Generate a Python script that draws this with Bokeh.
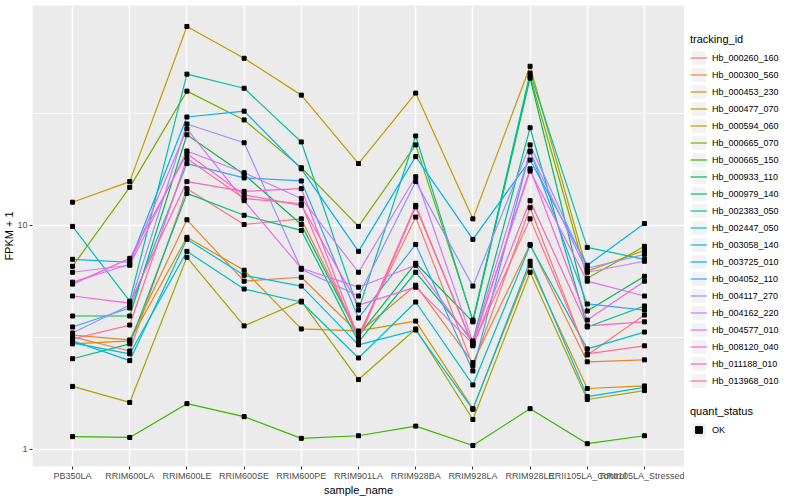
import numpy as np
from bokeh.plotting import figure
from bokeh.layouts import row
from bokeh.models import (Legend, LegendItem, FixedTicker, Range1d, FactorRange,
                          BasicTickFormatter, Title)
from bokeh.embed import file_html
from bokeh.resources import INLINE

samples = ["PB350LA", "RRIM600LA", "RRIM600LE", "RRIM600SE", "RRIM600PE", "RRIM901LA",
           "RRIM928BA", "RRIM928LA", "RRIM928LE", "RRII105LA_Control", "RRII105LA_Stressed"]

tracking_ids = ["Hb_000260_160", "Hb_000300_560", "Hb_000453_230", "Hb_000477_070",
                "Hb_000594_060", "Hb_000665_070", "Hb_000665_150", "Hb_000933_110",
                "Hb_000979_140", "Hb_002383_050", "Hb_002447_050", "Hb_003058_140",
                "Hb_003725_010", "Hb_004052_110", "Hb_004117_270", "Hb_004162_220",
                "Hb_004577_010", "Hb_008120_040", "Hb_011188_010", "Hb_013968_010"]

hb_000260_160 = [3.18, 2.75, 14.6, 10.1, 10.7, 3.24, 10.9, 2.36, 12.0, 2.64, 3.98]
hb_000300_560 = [3.24, 3.08, 10.6, 5.64, 5.87, 3.31, 5.41, 2.44, 8.23, 2.46, 2.51]
hb_000453_230 = [2.96, 3.05, 8.85, 6.31, 3.45, 3.38, 3.74, 1.52, 6.64, 1.87, 1.92]
hb_000477_070 = [12.7, 15.7, 77.4, 55.8, 38.2, 18.9, 39.0, 10.7, 51.4, 6.25, 7.74]
hb_000594_060 = [1.91, 1.62, 7.21, 3.56, 4.59, 2.05, 3.45, 1.36, 6.18, 1.67, 1.83]
hb_000665_070 = [6.57, 14.8, 39.8, 29.6, 18.1, 9.9, 22.9, 3.78, 46.4, 5.81, 8.07]
hb_000665_150 = [1.14, 1.13, 1.60, 1.40, 1.12, 1.15, 1.27, 1.04, 1.52, 1.06, 1.15]
hb_000933_110 = [3.94, 3.94, 25.4, 16.9, 10.1, 3.21, 6.78, 3.71, 45.5, 4.15, 5.93]
hb_000979_140 = [2.54, 2.96, 13.9, 11.1, 9.5, 3.02, 6.18, 3.05, 27.3, 3.52, 4.37]
hb_002383_050 = [9.9, 4.59, 47.4, 41.0, 23.6, 4.19, 25.1, 3.74, 47.9, 7.98, 7.06]
hb_002447_050 = [2.99, 2.67, 7.66, 5.20, 4.55, 2.56, 4.55, 1.94, 8.15, 2.81, 3.34]
hb_003058_140 = [3.05, 2.49, 8.67, 5.99, 5.36, 2.93, 3.41, 1.51, 6.92, 1.72, 1.89]
hb_003725_010 = [7.06, 6.85, 30.5, 32.4, 17.9, 7.66, 20.3, 8.67, 19.6, 6.64, 10.2]
hb_004052_110 = [3.52, 4.28, 18.9, 16.3, 15.8, 3.86, 8.23, 2.24, 21.5, 4.46, 4.19]
hb_004117_270 = [3.31, 4.41, 28.4, 23.4, 6.37, 4.84, 15.7, 5.36, 22.9, 6.44, 7.43]
hb_004162_220 = [6.18, 6.64, 21.5, 17.2, 13.2, 6.18, 16.5, 3.02, 21.3, 6.18, 6.92]
hb_004577_010 = [5.58, 6.71, 27.0, 12.9, 6.44, 5.30, 6.64, 2.99, 17.5, 5.64, 4.84]
hb_008120_040 = [5.47, 7.13, 20.9, 13.7, 12.3, 4.41, 5.30, 2.96, 17.9, 3.78, 5.64]
hb_011188_010 = [4.84, 4.50, 15.7, 14.2, 14.6, 3.15, 12.3, 2.90, 12.9, 3.56, 3.71]
hb_013968_010 = [3.11, 3.59, 19.9, 13.2, 12.5, 3.08, 12.1, 2.93, 10.7, 2.67, 2.90]

series = [hb_000260_160, hb_000300_560, hb_000453_230, hb_000477_070, hb_000594_060,
          hb_000665_070, hb_000665_150, hb_000933_110, hb_000979_140, hb_002383_050,
          hb_002447_050, hb_003058_140, hb_003725_010, hb_004052_110, hb_004117_270,
          hb_004162_220, hb_004577_010, hb_008120_040, hb_011188_010, hb_013968_010]

colors = ["#F8766D", "#EA8331", "#D89000", "#C09B00", "#A3A500", "#7CAE00", "#39B600",
          "#00BB4E", "#00BF7D", "#00C1A3", "#00BFC4", "#00BAE0", "#00B0F6", "#35A2FF",
          "#9590FF", "#C77CFF", "#E76BF3", "#FA62DB", "#FF62BC", "#FF6C91"]

quant_status = ["OK"]

FONT = "Liberation Sans"
H = 498

allv = np.concatenate([np.array(s) for s in series])
lmin, lmax = np.log10(allv.min()), np.log10(allv.max())
pad = 0.05 * (lmax - lmin)
y_range = Range1d(10 ** (lmin - pad), 10 ** (lmax + pad))
x_range = FactorRange(*samples, range_padding=0.2, range_padding_units="absolute")

p = figure(width=684, height=H, x_range=x_range, y_range=y_range, y_axis_type="log",
           output_backend="svg", toolbar_location=None,
           min_border_left=0, min_border_right=0, min_border_top=5, min_border_bottom=27)
p.background_fill_color = "#EBEBEB"
p.border_fill_color = "white"
p.outline_line_color = None

yt = FixedTicker(ticks=[1, 10], minor_ticks=[3.1623, 31.623])
p.yaxis.ticker = yt
p.ygrid.ticker = yt
p.yaxis.formatter = BasicTickFormatter()

for ax in (p.xaxis[0], p.yaxis[0]):
    ax.axis_line_color = None
    ax.major_tick_line_color = "#333333"
    ax.major_tick_in = 0
    ax.major_tick_out = 3
    ax.minor_tick_line_color = None
    ax.major_label_text_font = FONT
    ax.major_label_text_font_size = "9px"
    ax.major_label_text_color = "#4D4D4D"
    ax.major_label_standoff = 1
    ax.axis_label_text_font = FONT
    ax.axis_label_text_font_size = "11px"
    ax.axis_label_text_font_style = "normal"
    ax.axis_label_text_color = "black"
    ax.axis_label_standoff = 0
p.yaxis.major_label_standoff = 1
p.xaxis.axis_label = "sample_name"

ytitle = Title(text="FPKM + 1", align="center", text_font=FONT, text_font_size="11px",
               text_font_style="normal", text_color="black", standoff=0, offset=0)
p.add_layout(ytitle, "left")

p.xgrid.grid_line_color = "white"
p.xgrid.grid_line_width = 1.4
p.ygrid.grid_line_color = "white"
p.ygrid.grid_line_width = 1.4
p.ygrid.minor_grid_line_color = "white"
p.ygrid.minor_grid_line_width = 0.7

for vals, c in zip(series, colors):
    p.line(samples, vals, line_color=c, line_width=1.2)
for vals in series:
    p.scatter(samples, vals, marker="square", size=4, color="black")

# legend panel: a blank figure holding the two ggplot-style legends
q = figure(width=116, height=H, x_range=Range1d(0, 1), y_range=Range1d(0, 1),
           x_axis_type=None, y_axis_type=None, output_backend="svg", toolbar_location=None,
           min_border_left=0, min_border_right=0, min_border_top=0, min_border_bottom=0)
q.outline_line_color = None
q.background_fill_color = "white"
q.border_fill_color = "white"
q.xgrid.visible = False
q.ygrid.visible = False

bg = q.quad(left=[5], right=[6], bottom=[5], top=[6], fill_color="#F2F2F2", line_color=None)
key_lines = [q.line([5, 6], [5, 6], line_color=c, line_width=1.2) for c in colors]
key_pt = q.scatter([5], [5], marker="square", size=4, color="black")

items = [LegendItem(label=t, renderers=[bg, r]) for t, r in zip(tracking_ids, key_lines)]
leg1 = Legend(items=items, title="tracking_id", location=(6, 77))
leg2 = Legend(items=[LegendItem(label=quant_status[0], renderers=[bg, key_pt])],
              title="quant_status", location=(6, 28))
for lg in (leg1, leg2):
    lg.padding = 0
    lg.margin = 0
    lg.spacing = 0
    lg.glyph_width = 17
    lg.glyph_height = 17
    lg.label_height = 17
    lg.label_standoff = 5
    lg.title_standoff = 4
    lg.background_fill_alpha = 0
    lg.border_line_color = None
    lg.title_text_font = FONT
    lg.title_text_font_size = "11px"
    lg.title_text_font_style = "normal"
    lg.title_text_color = "black"
    lg.label_text_font = FONT
    lg.label_text_font_size = "9px"
    lg.label_text_color = "black"
    q.add_layout(lg, "center")

open("out.html", "w").write(file_html(row(p, q), INLINE))
